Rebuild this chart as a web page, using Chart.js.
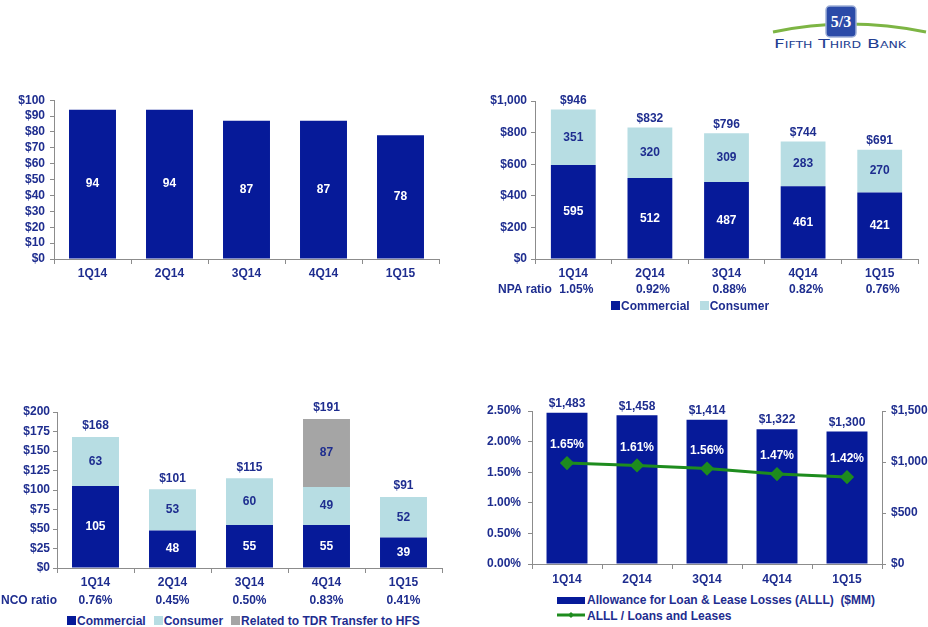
<!DOCTYPE html>
<html>
<head>
<meta charset="utf-8">
<script src="https://cdn.jsdelivr.net/npm/chart.js@4.4.1/dist/chart.umd.min.js"></script>
<style>
  body { margin: 0; width: 928px; height: 627px; background: #fff; position: relative; overflow: hidden;
         font-family: "Liberation Sans", Arial, sans-serif; }
  canvas { position: absolute; }
  .legend { position: absolute; font-weight: bold; color: #1E2D8F; white-space: nowrap; line-height: 16px; font-size: 12px; }
  .sw { display: inline-block; width: 9px; height: 9px; margin-right: 1px; }
  .gap { display: inline-block; width: 10px; }
</style>
</head>
<body>

<svg style="position:absolute;left:768px;top:0" width="160" height="55">
  <path d="M5 32 Q 80 16 158 32" stroke="#7DB544" stroke-width="3" fill="none"/>
  <rect x="58" y="6" width="30" height="31" rx="4" fill="#2B4BA8" stroke="#9fb0d8" stroke-width="1.5"/>
  <text x="73" y="27" text-anchor="middle" fill="#fff" font-family="Liberation Serif" font-weight="bold" font-size="16">5/3</text>
  <text x="6" y="48" fill="#233E91" font-family="DejaVu Sans" font-size="12" textLength="132" lengthAdjust="spacingAndGlyphs" style="font-variant:small-caps">Fifth Third Bank</text>
</svg>

<canvas id="panelA" width="445" height="201" style="left:0;top:88px"></canvas>
<canvas id="panelB" width="464" height="210" style="left:460px;top:89px"></canvas>
<canvas id="panelC" width="448" height="217" style="left:0;top:396px"></canvas>
<canvas id="panelD" width="468" height="193" style="left:460px;top:396px"></canvas>

<div class="legend" style="left:611px;top:298px">
  <span class="sw" style="background:#061A99"></span>Commercial<span class="gap"></span><span class="sw" style="background:#B7DDE3"></span>Consumer
</div>
<div class="legend" style="left:67px;top:613px">
  <span class="sw" style="background:#061A99"></span>Commercial<span class="gap" style="width:8px"></span><span class="sw" style="background:#B7DDE3"></span>Consumer<span class="gap" style="width:8px"></span><span class="sw" style="background:#A5A5A5"></span>Related to TDR Transfer to HFS
</div>
<div class="legend" style="left:557px;top:592px">
  <span style="display:inline-block;width:28px;height:7px;background:#061A99;margin-right:2px"></span>Allowance for Loan &amp; Lease Losses (ALLL)&nbsp; ($MM)<br>
  <svg width="28" height="10" style="margin-right:2px"><line x1="0" y1="5" x2="28" y2="5" stroke="#1E8C1E" stroke-width="3"/><polygon points="11,5 14,2 17,5 14,8" fill="#1E8C1E"/></svg>ALLL / Loans and Leases
</div>

<script>
const quarters = ["1Q14", "2Q14", "3Q14", "4Q14", "1Q15"];

// top left
const panelAValues = [94, 94, 87, 87, 78];

// top right - NPAs
const npaCommercial = [595, 512, 487, 461, 421];
const npaConsumer = [351, 320, 309, 283, 270];
const npaRatio = ["1.05%", "0.92%", "0.88%", "0.82%", "0.76%"];

// bottom left - NCOs
const ncoCommercial = [105, 48, 55, 55, 39];
const ncoConsumer = [63, 53, 60, 49, 52];
const ncoTdr = [null, null, null, 87, null];
const ncoRatio = ["0.76%", "0.45%", "0.50%", "0.83%", "0.41%"];

// bottom right - ALLL
const alllAmount = [1483, 1458, 1414, 1322, 1300];
const alllRatio = [1.65, 1.61, 1.56, 1.47, 1.42];

const NAVY = "#061A99";
const LIGHT = "#B7DDE3";
const GREY = "#A5A5A5";
const GREEN = "#1E8C1E";
const TEXT = "#1E2D8F";
const AXIS = "#8C8C8C";

Chart.defaults.font = { family: '"Liberation Sans", Arial, sans-serif', size: 12, weight: "bold" };
Chart.defaults.color = TEXT;
Chart.defaults.animation = false;
Chart.defaults.plugins.legend.display = false;
Chart.defaults.plugins.tooltip.enabled = false;

const dollars = v => "$" + v.toLocaleString("en-US");
const sumOf = (...arrs) => arrs[0].map((_, i) => arrs.reduce((s, a) => s + (a[i] || 0), 0));

const valueLabels = {
  id: "valueLabels",
  afterDatasetsDraw(chart, args, opts) {
    const ctx = chart.ctx;
    const xs = chart.scales.x;
    ctx.save();
    ctx.font = 'bold 12px "Liberation Sans", Arial, sans-serif';
    ctx.textAlign = "center";
    ctx.textBaseline = "middle";
    chart.data.datasets.forEach((ds, i) => {
      if (!ds.labelColor) return;
      const meta = chart.getDatasetMeta(i);
      meta.data.forEach((el, j) => {
        const v = ds.data[j];
        if (v == null) return;
        const y = ds.labelAbove != null ? el.y - ds.labelAbove : (el.y + el.base) / 2;
        ctx.fillStyle = ds.labelColor;
        ctx.fillText(ds.labelFormat ? ds.labelFormat(v) : String(v), el.x, y);
      });
    });
    if (opts.totals) {
      const ys = chart.scales.y;
      ctx.fillStyle = TEXT;
      opts.totals.forEach((t, j) => {
        ctx.fillText(dollars(t), xs.getPixelForValue(j), ys.getPixelForValue(t) - opts.totalGap);
      });
    }
    if (opts.ratios) {
      const y = chart.chartArea.bottom + opts.ratioGap;
      ctx.fillStyle = TEXT;
      opts.ratios.forEach((r, j) => ctx.fillText(r, xs.getPixelForValue(j) + (opts.ratioDx || 0), y));
      ctx.textAlign = "left";
      ctx.fillText(opts.ratioTitle, opts.ratioTitleX, y);
    }
    ctx.restore();
  }
};

function xAxis(height, pad) {
  return {
    grid: { display: true, drawOnChartArea: false, color: AXIS, tickLength: 5, offset: true },
    border: { color: AXIS },
    ticks: { padding: pad },
    afterFit: s => { s.height = height; }
  };
}

function yAxis(max, step, fmt, width, pad, position) {
  return {
    position: position || "left",
    min: 0,
    max: max,
    grid: { display: true, drawOnChartArea: false, color: AXIS, tickLength: 4 },
    border: { color: AXIS },
    ticks: { stepSize: step, autoSkip: false, padding: pad, callback: fmt },
    afterFit: s => { s.width = width; }
  };
}

// top left
new Chart(document.getElementById("panelA"), {
  type: "bar",
  data: {
    labels: quarters,
    datasets: [
      { data: panelAValues, backgroundColor: NAVY, barPercentage: 0.61, categoryPercentage: 1, labelColor: "#fff" }
    ]
  },
  options: {
    responsive: false,
    layout: { padding: { top: 12, right: 6, left: 0, bottom: 0 } },
    scales: {
      x: xAxis(30, 2),
      y: yAxis(100, 10, v => "$" + v, 54, 5)
    }
  },
  plugins: [valueLabels]
});

// top right
new Chart(document.getElementById("panelB"), {
  type: "bar",
  data: {
    labels: quarters,
    datasets: [
      { label: "Commercial", data: npaCommercial, backgroundColor: NAVY, barPercentage: 0.585, categoryPercentage: 1, labelColor: "#fff" },
      { label: "Consumer", data: npaConsumer, backgroundColor: LIGHT, barPercentage: 0.585, categoryPercentage: 1, labelColor: TEXT }
    ]
  },
  options: {
    responsive: false,
    layout: { padding: { top: 12, right: 6, left: 0, bottom: 0 } },
    scales: {
      x: Object.assign(xAxis(40, 2), { stacked: true }),
      y: Object.assign(yAxis(1000, 200, dollars, 75, 4), { stacked: true })
    },
    plugins: {
      valueLabels: {
        totals: sumOf(npaCommercial, npaConsumer), totalGap: 9,
        ratios: npaRatio, ratioGap: 31, ratioDx: 3, ratioTitle: "NPA ratio", ratioTitleX: 38
      }
    }
  },
  plugins: [valueLabels]
});

// bottom left
new Chart(document.getElementById("panelC"), {
  type: "bar",
  data: {
    labels: quarters,
    datasets: [
      { label: "Commercial", data: ncoCommercial, backgroundColor: NAVY, barPercentage: 0.61, categoryPercentage: 1, labelColor: "#fff" },
      { label: "Consumer", data: ncoConsumer, backgroundColor: LIGHT, barPercentage: 0.61, categoryPercentage: 1, labelColor: TEXT },
      { label: "Related to TDR Transfer to HFS", data: ncoTdr, backgroundColor: GREY, barPercentage: 0.61, categoryPercentage: 1, labelColor: TEXT }
    ]
  },
  options: {
    responsive: false,
    layout: { padding: { top: 16, right: 6, left: 0, bottom: 0 } },
    scales: {
      x: Object.assign(xAxis(45, 2), { stacked: true }),
      y: Object.assign(yAxis(200, 25, v => "$" + v, 57, 3), { stacked: true })
    },
    plugins: {
      valueLabels: {
        totals: sumOf(ncoCommercial, ncoConsumer, ncoTdr), totalGap: 11,
        ratios: ncoRatio, ratioGap: 33, ratioTitle: "NCO ratio", ratioTitleX: 1
      }
    }
  },
  plugins: [valueLabels]
});

// bottom right
new Chart(document.getElementById("panelD"), {
  type: "bar",
  data: {
    labels: quarters,
    datasets: [
      {
        type: "line", label: "ALLL / Loans and Leases", data: alllRatio, yAxisID: "y", order: 0,
        borderColor: GREEN, backgroundColor: GREEN, borderWidth: 3, pointStyle: "rectRot", pointRadius: 5,
        labelColor: "#fff", labelAbove: 18, labelFormat: v => v.toFixed(2) + "%"
      },
      {
        label: "Allowance for Loan & Lease Losses (ALLL) ($MM)", data: alllAmount, yAxisID: "y1", order: 1,
        backgroundColor: NAVY, barPercentage: 0.585, categoryPercentage: 1,
        labelColor: TEXT, labelAbove: 9, labelFormat: dollars
      }
    ]
  },
  options: {
    responsive: false,
    layout: { padding: { top: 15, right: 0, left: 0, bottom: 0 } },
    scales: {
      x: xAxis(25, 3),
      y: yAxis(2.5, 0.5, v => v.toFixed(2) + "%", 72, 7),
      y1: yAxis(1500, 500, dollars, 46, 5, "right")
    }
  },
  plugins: [valueLabels]
});
</script>
</body>
</html>
